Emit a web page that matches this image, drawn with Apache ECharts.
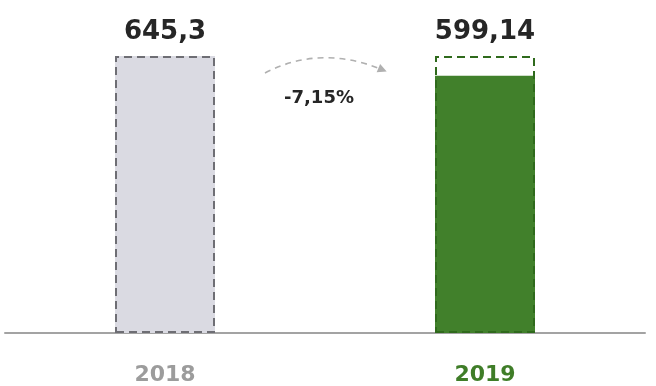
<!DOCTYPE html>
<html>
<head>
<meta charset="utf-8">
<style>
  html, body { margin: 0; padding: 0; background: #ffffff; }
  #chart { width: 656px; height: 386px; }
</style>
<script src="https://cdn.jsdelivr.net/npm/echarts@6/dist/echarts.min.js"></script>
</head>
<body>
<div id="chart"></div>
<script>
// Years and totals shown on the chart
const years = ['2018', '2019'];
const totals = [645.3, 599.14];
const totalLabels = ['645,3', '599,14'];

const GREY_FILL = '#dadae2';
const GREY_EDGE = '#6e6e74';
const GREEN_FILL = '#41802b';
const GREEN_EDGE = '#2f6a1c';
const FONT = '"DejaVu Sans", "Open Sans", sans-serif';

// Year-over-year change, written with a decimal comma
const change = (totals[1] - totals[0]) / totals[0] * 100;
const changeText = (change < 0 ? '-' : '+') + Math.abs(change).toFixed(2).replace('.', ',') + '%';

const chart = echarts.init(document.getElementById('chart'));

const option = {
  animation: false,
  grid: { left: 5, right: 11, top: 56, bottom: 49 },
  xAxis: {
    type: 'category',
    data: years,
    axisTick: { show: false },
    axisLine: { lineStyle: { color: '#a3a3a3', width: 2 } },
    axisLabel: {
      margin: 31,
      fontFamily: FONT,
      fontSize: 22,
      formatter: function (v, i) {
        return i === years.length - 1 ? '{cur|' + v + '}' : '{prev|' + v + '}';
      },
      rich: {
        prev: { color: '#9c9c9c', fontWeight: 'bold', fontSize: 22, fontFamily: FONT },
        cur: { color: '#3f7d28', fontWeight: 'bold', fontSize: 22, fontFamily: FONT }
      }
    }
  },
  yAxis: {
    type: 'value',
    min: 0,
    max: function (e) { return e.max; },
    show: false,
    splitLine: { show: false }
  },
  series: [
    {
      // Solid bars: last year in grey, current year in green
      name: 'fill',
      type: 'bar',
      barWidth: 100,
      z: 1,
      data: [
        { value: totals[0], itemStyle: { color: GREY_FILL } },
        { value: totals[1], itemStyle: { color: GREEN_FILL } }
      ]
    },
    {
      // Dashed outlines at last year's level, with the value labels above them
      name: 'outline',
      type: 'bar',
      barWidth: 100,
      barGap: '-100%',
      z: 3,
      data: [
        { value: totals[0], itemStyle: { color: 'rgba(0,0,0,0)', borderColor: GREY_EDGE } },
        { value: totals[0], itemStyle: { color: 'rgba(0,0,0,0)', borderColor: GREEN_EDGE } }
      ],
      itemStyle: { borderWidth: 2, borderType: [8, 5] },
      label: {
        show: true,
        position: 'top',
        distance: 11,
        color: '#262626',
        fontFamily: FONT,
        fontWeight: 'bold',
        fontSize: 26,
        formatter: function (p) { return totalLabels[p.dataIndex]; }
      }
    }
  ]
};

chart.setOption(option);

// Curved dashed arrow between the two bars with the percentage change
const p0 = chart.convertToPixel({ seriesIndex: 0 }, [0, totals[0]]);
const p1 = chart.convertToPixel({ seriesIndex: 0 }, [1, totals[0]]);
const midX = (p0[0] + p1[0]) / 2;
const sx = p0[0] + 100, sy = p0[1] + 17;
const ex = p1[0] - 102, ey = p1[1] + 14;
const cx = midX - 4, cy = p0[1] - 12;
const dx = ex - cx, dy = ey - cy;
const len = Math.sqrt(dx * dx + dy * dy);
const ux = dx / len, uy = dy / len;
const tipX = ex + ux * 4, tipY = ey + uy * 4;
const headL = 9, headW = 4.5;

chart.setOption({
  graphic: [
    {
      type: 'bezierCurve',
      shape: { x1: sx, y1: sy, cpx1: cx, cpy1: cy, x2: ex, y2: ey },
      style: { stroke: '#b0b0b0', lineWidth: 1.6, lineDash: [6, 5], fill: null }
    },
    {
      type: 'polygon',
      shape: {
        points: [
          [tipX, tipY],
          [tipX - ux * headL - uy * headW, tipY - uy * headL + ux * headW],
          [tipX - ux * headL + uy * headW, tipY - uy * headL - ux * headW]
        ]
      },
      style: { fill: '#b0b0b0' }
    },
    {
      type: 'text',
      x: midX - 6,
      y: p0[1] + 42,
      style: {
        text: changeText,
        fill: '#262626',
        font: 'bold 18px ' + FONT,
        align: 'center',
        verticalAlign: 'middle'
      }
    }
  ]
});
</script>
</body>
</html>
